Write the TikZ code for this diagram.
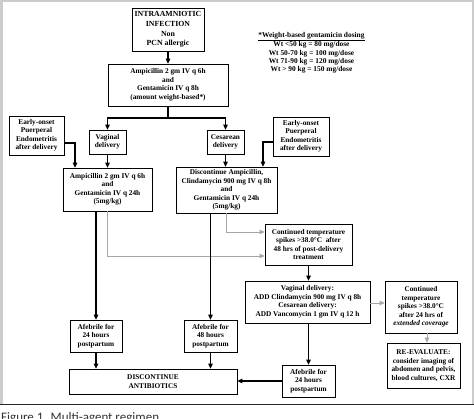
\documentclass[tikz,border=0pt]{standalone}
\usepackage{fontspec}
\setmainfont{Liberation Serif}
\newfontfamily\capfont{Carlito}
\usetikzlibrary{arrows.meta}
\begin{document}
\begin{tikzpicture}[x=1pt,y=-1pt,
  box/.style={draw=black, line width=0.7pt, fill=white, inner sep=1pt, align=center,
    font=\fontsize{7.3}{8.5}\selectfont\bfseries},
  arr/.style={line width=1.1pt, black, -{Triangle[length=5pt,width=4.5pt]}},
  plain/.style={line width=1.1pt, black},
  garr/.style={line width=0.9pt, gray!70, -{Triangle[length=5pt,width=4.5pt]}},
  frameline/.style={gray!40}
]
\useasboundingbox (0,0) rectangle (474,419);
\fill[white] (0,0) rectangle (474,419);
% frame
\fill[frameline] (0,0) rectangle (474,2);
\fill[frameline] (0,0) rectangle (3,404);
\fill[frameline] (472,0) rectangle (474,404);
\draw[line width=1.5pt, black!85] (0,404.5) -- (474,404.5);
\node[anchor=base west, inner sep=0, font=\capfont\fontsize{13}{13}\selectfont, text=black!80] (cap) at (1,421) {Figure 1. Multi-agent regimen};

% nodes
\node[box, minimum width=72pt, minimum height=43pt, font=\fontsize{7.8}{9.7}\selectfont\bfseries] (top) at (168,29.5)
  {INTRAAMNIOTIC\\INFECTION\\Non\\PCN allergic};
\node[align=center, inner sep=0, font=\fontsize{7.4}{8.2}\selectfont\bfseries] (wt) at (311.5,52.5)
  {\underline{*Weight-based gentamicin dosing}\\Wt <50 kg = 80 mg/dose\\Wt 50-70 kg = 100 mg/dose\\Wt 71-90 kg = 120 mg/dose\\Wt > 90 kg = 150 mg/dose};
\node[box, minimum width=120pt, minimum height=42pt] (amp1) at (168,85)
  {Ampicillin 2 gm IV q 6h\\and\\Gentamicin IV q 8h\\(amount weight-based*)};
\node[box, minimum width=37pt, minimum height=24pt] (vag) at (107.5,142) {Vaginal\\delivery};
\node[box, minimum width=37pt, minimum height=24pt] (ces) at (225.5,142) {Cesarean\\delivery};
\node[box, minimum width=55pt, minimum height=39pt] (eo1) at (36.5,135.5)
  {Early-onset\\Puerperal\\Endometritis\\after delivery};
\node[box, minimum width=56pt, minimum height=39pt] (eo2) at (301,136.5)
  {Early-onset\\Puerperal\\Endometritis\\after delivery};
\node[box, minimum width=89pt, minimum height=43pt] (amp2) at (107.5,189.5)
  {Ampicillin 2 gm IV q 6h\\and\\Gentamicin IV q 24h\\(5mg/kg)};
\node[box, minimum width=101pt, minimum height=46pt] (disc) at (226.5,190)
  {Discontinue Ampicillin,\\Clindamycin 900 mg IV q 8h\\and\\Gentamicin IV q 24h\\(5mg/kg)};
\node[box, minimum width=87pt, minimum height=41pt] (cont1) at (308.5,244.5)
  {Continued temperature\\spikes >38.0°C\ \ after\\48 hrs of post-delivery\\treatment};
\node[box, minimum width=125pt, minimum height=42pt] (add) at (307.5,302)
  {Vaginal delivery:\\ADD Clindamycin 900 mg IV q 8h\\Cesarean delivery:\\ADD Vancomycin 1 gm IV q 12 h};
\node[box, minimum width=72pt, minimum height=52pt] (cont2) at (421,307)
  {Continued\\temperature\\spikes >38.0°C\\after 24 hrs of\\\textit{extended coverage}};
\node[box, minimum width=73pt, minimum height=45pt] (reeval) at (423.5,365.5)
  {RE-EVALUATE:\\consider imaging of\\abdomen and pelvis,\\blood cultures, CXR};
\node[box, minimum width=52pt, minimum height=32pt] (af1) at (96,336) {Afebrile for\\24 hours\\postpartum};
\node[box, minimum width=53pt, minimum height=32pt] (af2) at (210.5,336) {Afebrile for\\48 hours\\postpartum};
\node[box, minimum width=53pt, minimum height=32pt] (af3) at (308.5,381) {Afebrile for\\24 hours\\postpartum};
\node[box, minimum width=168pt, minimum height=25pt] (dab) at (153,381.5) {DISCONTINUE\\ANTIBIOTICS};

% connectors
\coordinate (s1) at (168,118);
\draw[arr] (top) -- (amp1);
\draw[plain] (amp1.south) -- (s1);
\draw[arr] (s1) -| (vag.north);
\draw[arr] (s1) -| (ces.north);
\draw[arr] (eo1.east |- 0,143) -| (amp2.north -| 75,0);
\draw[arr] (eo2.west |- 0,142) -| (disc.north -| 263,0);
\draw[arr] (vag) -- (amp2);
\draw[arr] (ces.south) -- (ces.south |- disc.north);
\draw[garr] (amp2.south -| 107,0) |- (cont1.west |- 0,256);
\draw[garr] (disc.south -| 226,0) |- (cont1.west |- 0,232);
\draw[arr] (amp2.south -| af1.north) -- (af1.north);
\draw[arr] (disc.south -| af2.north) -- (af2.north);
\draw[arr] (af1.south) -- (af1.south |- dab.north);
\draw[arr] (af2.south) -- (af2.south |- dab.north);
\draw[arr] (cont1.south) -- (cont1.south |- add.north);
\draw[garr] (add.east |- 0,303) -- (cont2.west |- 0,303);
\draw[garr] (cont2.south -| 427,0) -- (reeval.north -| 427,0);
\draw[arr] (add.south -| af3.north) -- (af3.north);
\draw[arr] (af3.west) -- (dab.east |- af3.west);
\end{tikzpicture}
\end{document}
